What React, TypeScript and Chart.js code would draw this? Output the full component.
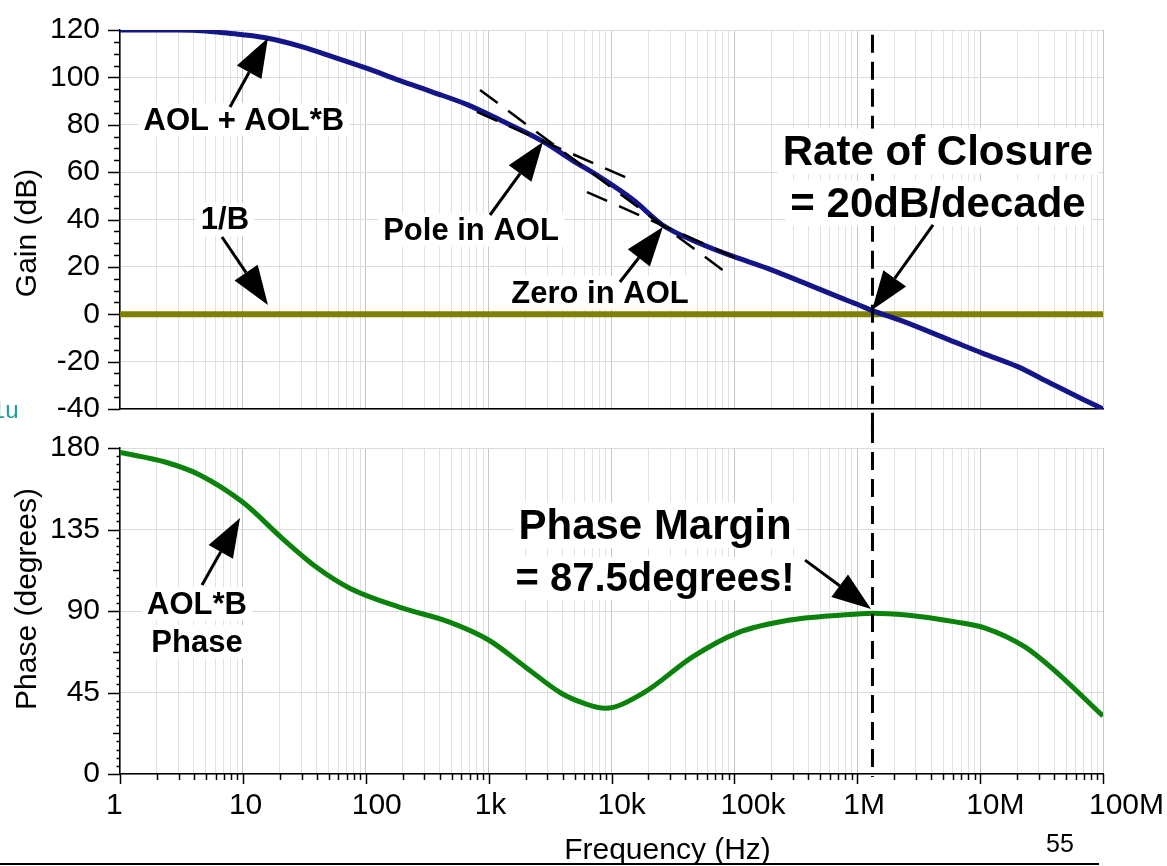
import React, { useEffect, useRef } from 'react';
import { Chart, registerables } from 'chart.js';

Chart.register(...registerables);

const FONT = "'Liberation Sans', Arial, Helvetica, sans-serif";

// ---- Frequency axis ----
const xDecades = [1, 10, 100, 1e3, 1e4, 1e5, 1e6, 1e7, 1e8];
const xTickLabels = ['1', '10', '100', '1k', '10k', '100k', '1M', '10M', '100M'];

// ---- Gain panel (dB) ----
const gainTicks = [-40, -20, 0, 20, 40, 60, 80, 100, 120];
const gainFreq = [1, 2, 3, 5, 7, 10, 16, 30, 54, 100, 190, 350, 670, 1240, 2760, 4800, 8000, 15000, 26000, 52000, 97000, 184000, 340000, 860000, 1000000, 1330000, 2200000, 5600000, 10400000, 20000000, 37000000, 69000000, 100000000];
const gainDb = [120, 120, 120, 119.6, 118.8, 118, 116.5, 113, 108.7, 104, 98.6, 93.8, 88.5, 82, 73, 65, 58, 48.3, 37.7, 30, 24.5, 19.5, 14, 5.5, 4.2, 1.5, -2.4, -10.8, -16.4, -22, -29, -36, -40];
const invBFreq = [1, 1e8];
const invBDb = [0, 0];

// ---- Phase panel (degrees) ----
const phaseTicks = [0, 45, 90, 135, 180];
const phaseFreq = [1, 2.4, 4.5, 10, 21, 40, 74, 190, 475, 1000, 2000, 3900, 6000, 8900, 18000, 46000, 105000, 283000, 1000000, 1330000, 2500000, 6300000, 11000000, 23000000, 40000000, 100000000];
const phaseDeg = [177.5, 172, 165, 150, 130, 114, 102.6, 92, 84, 74, 59, 44.6, 39, 36.3, 44.6, 64.8, 77.8, 85, 88.3, 88.8, 87.8, 84, 80.6, 70.3, 57.4, 32];

const crossoverFreq = 1.33e6;

// ---- Annotations (data coordinates: frequency, value) ----
const gainNotes = [
  { text: 'AOL + AOL*B', f: 10.2, v: 81.6, size: 31 },
  { text: '1/B', f: 7.15, v: 39.4, size: 31 },
  { text: 'Pole in AOL', f: 719, v: 35.1, size: 31 },
  { text: 'Zero in AOL', f: 8060, v: 8.5, size: 31 },
  { text: 'Rate of Closure', f: 4.54e6, v: 68.1, size: 42 },
  { text: '= 20dB/decade', f: 4.54e6, v: 46.1, size: 42 },
];
const gainArrows = [
  { from: [7.86, 87.5], to: [16, 116.6] },
  { from: [6.76, 32.6], to: [16, 3.9] },
  { from: [1026, 41.9], to: [2770, 72.7] },
  { from: [11700, 13.6], to: [26200, 36.8] },
  { from: [4.14e6, 37.7], to: [1.318e6, 1.8] },
];
const gainAsymptotes = [
  { from: [804, 85.4], to: [13400, 57.5] },
  { from: [851, 94.7], to: [88800, 17] },
  { from: [6320, 51.6], to: [122000, 22.1] },
];
const phaseNotes = [
  { text: 'AOL*B', f: 4.23, v: 93.3, size: 31 },
  { text: 'Phase', f: 4.23, v: 72.3, size: 31 },
  { text: 'Phase Margin', f: 22600, v: 136.4, size: 42 },
  { text: '= 87.5degrees!', f: 22600, v: 107.1, size: 40 },
];
const phaseArrows = [
  { from: [4.65, 104.4], to: [9.48, 141.4] },
  { from: [376000, 118.1], to: [1.294e6, 91.1] },
];

// ---------------------------------------------------------------
function gridValues(): number[] {
  const vals: number[] = [];
  for (let d = 0; d < 8; d++) for (let m = 1; m <= 9; m++) vals.push(m * Math.pow(10, d));
  vals.push(1e8);
  return vals;
}
const isDecade = (v: number) => Math.abs(Math.log10(v) - Math.round(Math.log10(v))) < 1e-9;

function xScale(showLabels: boolean, height: number): any {
  return {
    type: 'logarithmic',
    min: 1,
    max: 1e8,
    afterBuildTicks: (s: any) => {
      s.ticks = gridValues().map((v) => ({ value: v, major: isDecade(v) }));
    },
    afterFit: (s: any) => {
      s.height = height;
      s.paddingLeft = 0;
      s.paddingRight = 0;
    },
    grid: {
      color: (c: any) => (c.tick && isDecade(c.tick.value) ? '#c6c6c6' : '#e2e2e2'),
      lineWidth: 1,
      drawTicks: false,
    },
    border: { display: true, color: '#000', width: 1.5 },
    ticks: {
      display: showLabels,
      autoSkip: false,
      maxRotation: 0,
      minRotation: 0,
      align: 'start',
      labelOffset: -14,
      padding: 14,
      font: { family: FONT, size: 30 },
      color: '#000',
      callback: (v: any) => {
        const i = xDecades.findIndex((d) => Math.abs(d - Number(v)) / d < 1e-9);
        return i >= 0 ? xTickLabels[i] : '';
      },
    },
  };
}

function yScale(min: number, max: number, ticks: number[]): any {
  return {
    type: 'linear',
    min,
    max,
    afterBuildTicks: (s: any) => {
      s.ticks = ticks.map((v) => ({ value: v }));
    },
    afterFit: (s: any) => {
      s.width = 120;
      s.paddingTop = 0;
      s.paddingBottom = 0;
    },
    grid: { color: '#dcdcdc', lineWidth: 1, drawTicks: false },
    border: { display: true, color: '#000', width: 1.5 },
    ticks: { font: { family: FONT, size: 30 }, color: '#000', padding: 20 },
  };
}

function drawNote(ctx: CanvasRenderingContext2D, text: string, x: number, y: number, size: number) {
  ctx.font = `bold ${size}px ${FONT}`;
  const w = ctx.measureText(text).width;
  ctx.fillStyle = '#fff';
  ctx.fillRect(x - w / 2 - 5, y - size * 0.58, w + 10, size * 1.08);
  ctx.fillStyle = '#000';
  ctx.textAlign = 'center';
  ctx.textBaseline = 'middle';
  ctx.fillText(text, x, y);
}

function drawArrow(ctx: CanvasRenderingContext2D, x1: number, y1: number, x2: number, y2: number) {
  const ang = Math.atan2(y2 - y1, x2 - x1);
  const L = 39;
  const W = 14;
  const bx = x2 - L * Math.cos(ang);
  const by = y2 - L * Math.sin(ang);
  ctx.setLineDash([]);
  ctx.strokeStyle = '#000';
  ctx.fillStyle = '#000';
  ctx.lineWidth = 3;
  ctx.beginPath();
  ctx.moveTo(x1, y1);
  ctx.lineTo(bx, by);
  ctx.stroke();
  ctx.beginPath();
  ctx.moveTo(x2, y2);
  ctx.lineTo(bx + W * Math.sin(ang), by - W * Math.cos(ang));
  ctx.lineTo(bx - W * Math.sin(ang), by + W * Math.cos(ang));
  ctx.closePath();
  ctx.fill();
}

function drawYTitle(ctx: CanvasRenderingContext2D, text: string, x: number, y: number) {
  ctx.save();
  ctx.translate(x, y);
  ctx.rotate(-Math.PI / 2);
  ctx.font = `30px ${FONT}`;
  ctx.fillStyle = '#000';
  ctx.textAlign = 'center';
  ctx.textBaseline = 'middle';
  ctx.fillText(text, 0, 0);
  ctx.restore();
}

const topPlugin: any = {
  id: 'gainAnnotations',
  afterDatasetsDraw(chart: any) {
    const ctx: CanvasRenderingContext2D = chart.ctx;
    const X = (f: number) => chart.scales.x.getPixelForValue(f);
    const Y = (v: number) => chart.scales.y.getPixelForValue(v);
    ctx.save();
    ctx.strokeStyle = '#000';
    ctx.lineWidth = 2.5;
    ctx.setLineDash([22, 13]);
    gainAsymptotes.forEach((s) => {
      ctx.beginPath();
      ctx.moveTo(X(s.from[0]), Y(s.from[1]));
      ctx.lineTo(X(s.to[0]), Y(s.to[1]));
      ctx.stroke();
    });
    ctx.lineWidth = 3;
    ctx.setLineDash([18, 9]);
    const cx = X(crossoverFreq);
    ctx.beginPath();
    ctx.moveTo(cx, Y(118));
    ctx.lineTo(cx, chart.height);
    ctx.stroke();
    ctx.setLineDash([]);
    gainNotes.forEach((n) => drawNote(ctx, n.text, X(n.f), Y(n.v), n.size));
    gainArrows.forEach((a) => drawArrow(ctx, X(a.from[0]), Y(a.from[1]), X(a.to[0]), Y(a.to[1])));
    ctx.restore();
  },
  afterDraw(chart: any) {
    const ctx: CanvasRenderingContext2D = chart.ctx;
    const ys = chart.scales.y;
    const left = chart.chartArea.left;
    ctx.save();
    ctx.strokeStyle = '#000';
    ctx.lineWidth = 1.5;
    for (let i = 0; i <= 32; i++) {
      const v = -40 + 5 * i;
      const len = v % 20 === 0 ? 12 : 6;
      const y = Math.round(ys.getPixelForValue(v)) + 0.5;
      ctx.beginPath();
      ctx.moveTo(left - len, y);
      ctx.lineTo(left, y);
      ctx.stroke();
    }
    drawYTitle(ctx, 'Gain (dB)', 28, 233);
    ctx.font = `24px ${FONT}`;
    ctx.fillStyle = '#1f9e9e';
    ctx.textAlign = 'left';
    ctx.textBaseline = 'alphabetic';
    ctx.fillText('1u', -8, 418);
    ctx.restore();
  },
};

const bottomPlugin: any = {
  id: 'phaseAnnotations',
  afterDatasetsDraw(chart: any) {
    const ctx: CanvasRenderingContext2D = chart.ctx;
    const X = (f: number) => chart.scales.x.getPixelForValue(f);
    const Y = (v: number) => chart.scales.y.getPixelForValue(v);
    ctx.save();
    ctx.strokeStyle = '#000';
    ctx.lineWidth = 3;
    ctx.setLineDash([18, 9]);
    const cx = X(crossoverFreq);
    ctx.beginPath();
    ctx.moveTo(cx, 0);
    ctx.lineTo(cx, chart.chartArea.bottom + 3);
    ctx.stroke();
    ctx.setLineDash([]);
    phaseNotes.forEach((n) => drawNote(ctx, n.text, X(n.f), Y(n.v), n.size));
    phaseArrows.forEach((a) => drawArrow(ctx, X(a.from[0]), Y(a.from[1]), X(a.to[0]), Y(a.to[1])));
    ctx.restore();
  },
  afterDraw(chart: any) {
    const ctx: CanvasRenderingContext2D = chart.ctx;
    const xs = chart.scales.x;
    const ys = chart.scales.y;
    const { left, bottom } = chart.chartArea;
    ctx.save();
    ctx.strokeStyle = '#000';
    ctx.lineWidth = 1.5;
    for (let i = 0; i <= 40; i++) {
      const v = 4.5 * i;
      const len = i % 10 === 0 ? 12 : i % 5 === 0 ? 7 : 3.5;
      const y = Math.round(ys.getPixelForValue(v)) + 0.5;
      ctx.beginPath();
      ctx.moveTo(left - len, y);
      ctx.lineTo(left, y);
      ctx.stroke();
    }
    gridValues().forEach((f) => {
      const x = Math.round(xs.getPixelForValue(f)) + 0.5;
      const len = isDecade(f) ? 10 : 6;
      ctx.beginPath();
      ctx.moveTo(x, bottom);
      ctx.lineTo(x, bottom + len);
      ctx.stroke();
    });
    drawYTitle(ctx, 'Phase (degrees)', 28, 174);
    ctx.font = `30px ${FONT}`;
    ctx.fillStyle = '#000';
    ctx.textAlign = 'center';
    ctx.textBaseline = 'alphabetic';
    ctx.fillText('Frequency (Hz)', 667.5, 433.5);
    ctx.font = `25px 'Liberation Sans Narrow', ${FONT}`;
    ctx.fillText('55', 1060, 427);
    ctx.lineWidth = 2;
    ctx.beginPath();
    ctx.moveTo(0, 439);
    ctx.lineTo(1099, 439);
    ctx.stroke();
    ctx.restore();
  },
};

export default function App() {
  const topRef = useRef<HTMLCanvasElement>(null);
  const botRef = useRef<HTMLCanvasElement>(null);

  useEffect(() => {
    const top = new Chart(topRef.current as HTMLCanvasElement, {
      type: 'line',
      data: {
        datasets: [
          {
            label: 'AOL + AOL*B',
            data: gainFreq.map((f, i) => ({ x: f, y: gainDb[i] })),
            borderColor: '#15158a',
            borderWidth: 5,
            pointRadius: 0,
            cubicInterpolationMode: 'monotone',
            fill: false,
          },
          {
            label: '1/B',
            data: invBFreq.map((f, i) => ({ x: f, y: invBDb[i] })),
            borderColor: '#808000',
            borderWidth: 6,
            pointRadius: 0,
            fill: false,
          },
        ],
      },
      options: {
        responsive: false,
        animation: false,
        layout: { padding: { left: 0, top: 30, right: 64, bottom: 21 } },
        plugins: { legend: { display: false }, tooltip: { enabled: false } },
        scales: { x: xScale(false, 0), y: yScale(-40, 120, gainTicks) },
      } as any,
      plugins: [topPlugin],
    });

    const bot = new Chart(botRef.current as HTMLCanvasElement, {
      type: 'line',
      data: {
        datasets: [
          {
            label: 'AOL*B Phase',
            data: phaseFreq.map((f, i) => ({ x: f, y: phaseDeg[i] })),
            borderColor: '#0b820b',
            borderWidth: 5,
            pointRadius: 0,
            cubicInterpolationMode: 'monotone',
            fill: false,
          },
        ],
      },
      options: {
        responsive: false,
        animation: false,
        layout: { padding: { left: 0, top: 23, right: 64, bottom: 0 } },
        plugins: { legend: { display: false }, tooltip: { enabled: false } },
        scales: { x: xScale(true, 92), y: yScale(0, 180, phaseTicks) },
      } as any,
      plugins: [bottomPlugin],
    });

    return () => {
      top.destroy();
      bot.destroy();
    };
  }, []);

  return (
    <div style={{ position: 'absolute', left: 0, top: 0, width: 1167, height: 866, background: '#fff', overflow: 'hidden' }}>
      <canvas ref={topRef} width={1167} height={430} style={{ position: 'absolute', left: 0, top: 0 }} />
      <canvas ref={botRef} width={1167} height={441} style={{ position: 'absolute', left: 0, top: 425 }} />
    </div>
  );
}
